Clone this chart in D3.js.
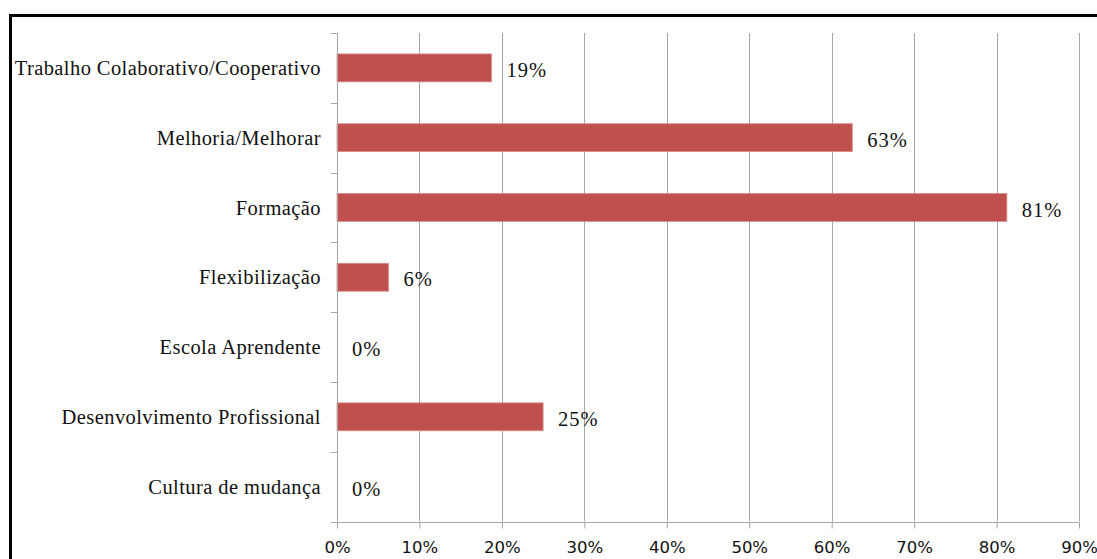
<!DOCTYPE html>
<html>
<head>
<meta charset="utf-8">
<script src="https://cdn.jsdelivr.net/npm/d3@7"></script>
<style>
  html, body { margin: 0; padding: 0; background: #fff; }
  svg { display: block; }
</style>
</head>
<body>
<svg id="chart" width="1097" height="559"></svg>
<script>
// Categories, top to bottom
const categories = [
  "Trabalho Colaborativo/Cooperativo",
  "Melhoria/Melhorar",
  "Formação",
  "Flexibilização",
  "Escola Aprendente",
  "Desenvolvimento Profissional",
  "Cultura de mudança"
];
// Share of responses (%)
const values = [18.75, 62.5, 81.25, 6.25, 0, 25, 0];
// X axis ticks (%)
const xTicks = [0, 10, 20, 30, 40, 50, 60, 70, 80, 90];

const svg = d3.select("#chart");

// Outer frame
svg.append("rect")
  .attr("x", 10.5).attr("y", 15.5)
  .attr("width", 1100).attr("height", 560)
  .attr("fill", "#fff")
  .attr("stroke", "#000")
  .attr("stroke-width", 3);

const plotLeft = 337, plotRight = 1079, plotTop = 33, plotBottom = 521.5;

const x = d3.scaleLinear().domain([0, 90]).range([plotLeft, plotRight]);
const y = d3.scaleBand().domain(categories).range([plotTop, plotBottom]).paddingInner(0.6).paddingOuter(0.3);
const yEdges = d3.scaleLinear().domain([0, categories.length]).range([plotTop, plotBottom]);

const grey = "#a6a6a6";
const serif = "'Liberation Serif', 'Times New Roman', serif";

// Vertical gridlines
svg.append("g")
  .selectAll("line")
  .data(xTicks.slice(1))
  .join("line")
  .attr("x1", d => Math.round(x(d)) + 0.5)
  .attr("x2", d => Math.round(x(d)) + 0.5)
  .attr("y1", plotTop)
  .attr("y2", plotBottom)
  .attr("stroke", grey)
  .attr("stroke-width", 1);

// Bars
svg.append("g")
  .selectAll("rect")
  .data(values)
  .join("rect")
  .attr("x", x(0))
  .attr("y", (d, i) => y(categories[i]))
  .attr("width", d => x(d) - x(0))
  .attr("height", y.bandwidth())
  .attr("fill", "#c0504d")
  .attr("stroke", d => d > 0 ? "#d98c8a" : "none")
  .attr("stroke-width", 0.8);

// X axis
const xAxis = svg.append("g")
  .attr("transform", `translate(0,${Math.round(plotBottom) + 0.5})`)
  .call(d3.axisBottom(x).tickValues(xTicks).tickFormat(d => d + "%").tickSize(6).tickSizeOuter(0).tickPadding(13));
xAxis.select(".domain").remove();
xAxis.append("line")
  .attr("x1", plotLeft - 6).attr("x2", Math.round(plotRight) + 0.5)
  .attr("y1", 0).attr("y2", 0)
  .attr("stroke", grey);
xAxis.selectAll(".tick line").attr("stroke", grey);
xAxis.selectAll(".tick text")
  .attr("fill", "#111")
  .style("font-family", "'DejaVu Sans', Verdana, sans-serif")
  .style("font-size", "16.5px");

// Y axis line and category boundary ticks
const yAxis = svg.append("g");
yAxis.append("line")
  .attr("x1", plotLeft + 0.5).attr("x2", plotLeft + 0.5)
  .attr("y1", plotTop).attr("y2", plotBottom)
  .attr("stroke", grey);
yAxis.selectAll("line.edge")
  .data(d3.range(categories.length))
  .join("line")
  .attr("class", "edge")
  .attr("x1", plotLeft - 6).attr("x2", plotLeft)
  .attr("y1", d => Math.round(yEdges(d)) + 0.5)
  .attr("y2", d => Math.round(yEdges(d)) + 0.5)
  .attr("stroke", grey);

// Category labels
svg.append("g")
  .selectAll("text")
  .data(categories)
  .join("text")
  .attr("x", 321)
  .attr("y", d => y(d) + y.bandwidth() / 2)
  .attr("dy", "0.35em")
  .attr("text-anchor", "end")
  .style("font-family", serif)
  .style("font-size", "20.5px")
  .style("letter-spacing", "0.42px")
  .attr("fill", "#111")
  .text(d => d);

// Value labels
const fmt = d => d3.format(".0f")(d) + "%";
svg.append("g")
  .selectAll("text")
  .data(values)
  .join("text")
  .attr("x", d => x(d) + 15)
  .attr("y", (d, i) => y(categories[i]) + y.bandwidth() / 2 + 2)
  .attr("dy", "0.35em")
  .style("font-family", serif)
  .style("font-size", "20.5px")
  .style("letter-spacing", "1px")
  .attr("fill", "#111")
  .text(fmt);
</script>
</body>
</html>
